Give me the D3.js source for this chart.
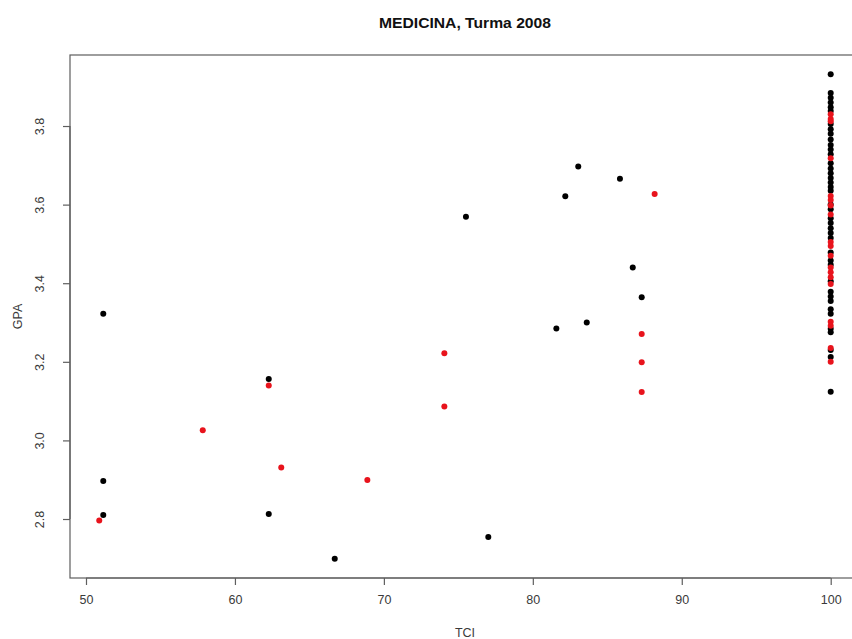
<!DOCTYPE html>
<html>
<head>
<meta charset="utf-8">
<script src="https://cdn.jsdelivr.net/npm/d3@7"></script>
<style>
  html, body { margin: 0; padding: 0; background: #fff; }
  svg { display: block; }
  text { font-family: "Liberation Sans", Arial, sans-serif; }
</style>
</head>
<body>
<div id="chart"></div>
<script>
// ---- data ----
const title = "MEDICINA, Turma 2008";
const xLabel = "TCI";
const yLabel = "GPA";
const xTicks = [50, 60, 70, 80, 90, 100];
const yTicks = [2.8, 3.0, 3.2, 3.4, 3.6, 3.8];

// black points (scattered)
const blackTCI = [51.16, 51.16, 51.16, 62.27, 62.27, 66.70, 75.51, 77.01, 81.58, 82.18, 83.05, 83.62, 85.85, 86.71, 87.31];
const blackGPA = [3.322, 2.897, 2.810, 3.156, 2.813, 2.699, 3.569, 2.754, 3.285, 3.621, 3.697, 3.300, 3.666, 3.440, 3.364];

// red points (scattered)
const redTCI = [50.89, 57.84, 62.27, 63.11, 68.89, 74.06, 74.06, 87.31, 87.31, 87.31, 88.18];
const redGPA = [2.796, 3.026, 3.140, 2.931, 2.899, 3.222, 3.086, 3.271, 3.199, 3.123, 3.627];

// points at TCI = 100
const fullTCI = 100;
const blackGPAat100 = [3.932, 3.884, 3.872, 3.860, 3.848, 3.838, 3.805, 3.792, 3.780, 3.766, 3.752, 3.740, 3.728,
  3.705, 3.692, 3.680, 3.668, 3.656, 3.645, 3.635, 3.600, 3.588, 3.565, 3.553, 3.540, 3.528, 3.515,
  3.478, 3.458, 3.447, 3.405, 3.378, 3.366, 3.355, 3.334, 3.322, 3.284, 3.275, 3.230, 3.212, 3.124];
const redGPAat100 = [3.830, 3.818, 3.812, 3.718, 3.622, 3.612, 3.598, 3.575, 3.505, 3.495, 3.470, 3.440,
  3.428, 3.415, 3.398, 3.302, 3.292, 3.235, 3.200];

// ---- layout ----
const W = 852, H = 639;
const mLeft = 70, mRight = 860, mTop = 55, mBottom = 578;

const svg = d3.select("#chart").append("svg").attr("width", W).attr("height", H);

const x = d3.scaleLinear().domain([48.926, 101.967]).range([mLeft, mRight]);
const y = d3.scaleLinear().domain([2.6499, 3.9807]).range([mBottom, mTop]);

const axisColor = "#5e5e5e";
const textColor = "#3a3a3a";

// box
svg.append("rect")
  .attr("x", mLeft).attr("y", mTop)
  .attr("width", mRight - mLeft).attr("height", mBottom - mTop)
  .attr("fill", "none").attr("stroke", axisColor).attr("stroke-width", 1.2);

// x axis
const xAxis = svg.append("g").attr("transform", `translate(0,${mBottom})`)
  .call(d3.axisBottom(x).tickValues(xTicks).tickSize(7).tickPadding(10).tickFormat(d3.format("d")));
xAxis.select(".domain").attr("d", `M${x(xTicks[0])},0H${x(xTicks[xTicks.length-1])}`).attr("stroke", axisColor).attr("stroke-width", 1.2);
xAxis.selectAll(".tick line").attr("stroke", axisColor).attr("stroke-width", 1.2);
xAxis.selectAll(".tick text").attr("fill", textColor).style("font-size", "12.5px");

// y axis
const yAxis = svg.append("g").attr("transform", `translate(${mLeft},0)`)
  .call(d3.axisLeft(y).tickValues(yTicks).tickSize(7).tickFormat(d3.format(".1f")));
yAxis.select(".domain").attr("d", `M0,${y(yTicks[0])}V${y(yTicks[yTicks.length-1])}`).attr("stroke", axisColor).attr("stroke-width", 1.2);
yAxis.selectAll(".tick line").attr("stroke", axisColor).attr("stroke-width", 1.2);
yAxis.selectAll(".tick text")
  .attr("fill", textColor).style("font-size", "12.5px")
  .attr("x", null).attr("dy", null)
  .attr("text-anchor", "middle")
  .attr("transform", "translate(-26,0) rotate(-90)");

// titles
svg.append("text").attr("x", 465).attr("y", 28)
  .attr("text-anchor", "middle").attr("font-weight", "bold")
  .attr("fill", "#111").style("font-size", "15px")
  .attr("textLength", 172).attr("lengthAdjust", "spacingAndGlyphs")
  .text(title);
svg.append("text").attr("x", 465).attr("y", 637)
  .attr("text-anchor", "middle").attr("fill", textColor).style("font-size", "12.5px")
  .text(xLabel);
svg.append("text").attr("transform", `translate(22,${(mTop + mBottom) / 2}) rotate(-90)`)
  .attr("text-anchor", "middle").attr("fill", textColor).style("font-size", "12.5px")
  .text(yLabel);

// points
const blackPts = blackTCI.map((t, i) => ({ t, g: blackGPA[i] }))
  .concat(blackGPAat100.map(g => ({ t: fullTCI, g })));
const redPts = redTCI.map((t, i) => ({ t, g: redGPA[i] }))
  .concat(redGPAat100.map(g => ({ t: fullTCI, g })));

const pts = svg.append("g");
pts.selectAll("circle.b").data(blackPts).enter().append("circle")
  .attr("class", "b")
  .attr("cx", d => x(d.t)).attr("cy", d => y(d.g)).attr("r", 3)
  .attr("fill", "#000");
pts.selectAll("circle.r").data(redPts).enter().append("circle")
  .attr("class", "r")
  .attr("cx", d => x(d.t)).attr("cy", d => y(d.g)).attr("r", 3)
  .attr("fill", "#e8131c");
</script>
</body>
</html>
